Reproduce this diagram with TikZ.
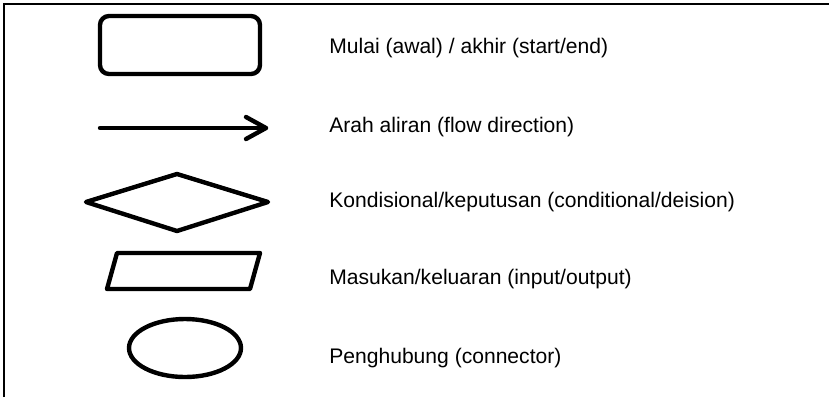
\documentclass[tikz,border=0pt]{standalone}
\usepackage{fontspec}
\setmainfont{Liberation Sans}
\usetikzlibrary{arrows,positioning}

\tikzset{
  symbol/.style={line width=2.5pt, line join=round, line cap=round},
  legend text/.style={anchor=base west, inner sep=0pt, font=\fontsize{12}{14}\selectfont}
}

\begin{document}
\begin{tikzpicture}[x=0.02cm,y=-0.02cm]
  \useasboundingbox (0,0) rectangle (829,397);
  % frame
  \draw [line width=1.4pt] (4,397) -- (4,4) -- (829,4);

  % symbols
  \draw [symbol, rounded corners=0.18cm] (100,16) rectangle (260,74);
  \coordinate (flowtail) at (100,128);
  \coordinate (flowtip) at (266,128);
  \draw [symbol] (flowtail) -- (flowtip);
  \draw [symbol] (flowtip) ++(-20,-11) -- (flowtip) -- ++(-20,11);
  \draw [symbol] (86,202) -- (177,174) -- (268,202) -- (177,231) -- cycle;
  \draw [symbol] (117,253) -- (260,253) -- (250,289) -- (107,289) -- cycle;
  \draw [symbol] (185,348) ellipse [x radius=56, y radius=29];

  % labels
  \node (lblstart) [legend text] at (329,53) {Mulai (awal) / akhir (start/end)};
  \node (lblflow) [legend text] at (329,132) {Arah aliran (flow direction)};
  \node (lbldecision) [legend text] at (329,207) {Kondisional/keputusan (conditional/deision)};
  \node (lblio) [legend text] at (329,284) {Masukan/keluaran (input/output)};
  \node (lblconn) [legend text] at (329,363) {Penghubung (connector)};
\end{tikzpicture}
\end{document}
